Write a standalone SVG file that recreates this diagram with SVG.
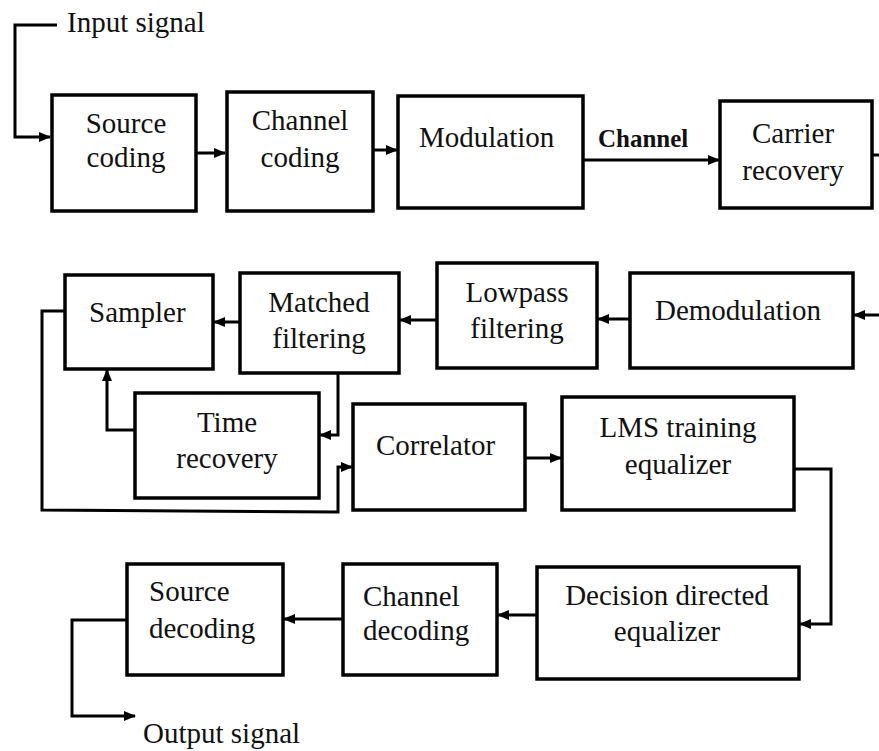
<svg xmlns="http://www.w3.org/2000/svg" width="879" height="751" viewBox="0 0 879 751">
<defs>
<marker id="ah" markerWidth="12" markerHeight="10" refX="11" refY="5" orient="auto" markerUnits="userSpaceOnUse">
<path d="M0,0 L12,5 L0,10 z" fill="#000"/>
</marker>
<style>
.box{fill:#fff;stroke:#000;stroke-width:3.5}
.t{font-family:"Liberation Serif","Times New Roman",serif;font-size:29px;fill:#111}
.m{text-anchor:middle}
.b{font-weight:bold;font-size:25px}
.c{fill:none;stroke:#000;stroke-width:3}
.a{marker-end:url(#ah)}
</style>
</defs>
<rect width="879" height="751" fill="#fff"/>
<g id="connectors">
<path class="c a" d="M57,25 H15 V137 H50"/>
<path class="c a" d="M196,153 H225"/>
<path class="c a" d="M373,150 H397"/>
<path class="c a" d="M583,160 H719"/>
<path class="c" d="M872,155 H879"/>
<path class="c a" d="M879,315 H854"/>
<path class="c a" d="M630,319 H598"/>
<path class="c a" d="M437,320 H400"/>
<path class="c a" d="M240,322 H214"/>
<path class="c a" d="M338,373 V435 H320"/>
<path class="c a" d="M135,430 H107 V370"/>
<path class="c a" d="M65,311 H42 V510 L338,512 V467 H352"/>
<path class="c a" d="M525,458 H561"/>
<path class="c a" d="M794,469 H831 V624 H800"/>
<path class="c a" d="M537,615 H498"/>
<path class="c a" d="M342,619 H284"/>
<path class="c a" d="M127,620 H72 V716 H135"/>
</g>
<text class="t" x="67" y="32">Input signal</text>
<text class="t b" x="598" y="147">Channel</text>
<text class="t" x="143" y="743">Output signal</text>
<g id="source-coding"><rect class="box" x="52" y="95" width="144" height="116"/><text class="t m" x="126" y="133">Source</text><text class="t m" x="126" y="167">coding</text></g>
<g id="channel-coding"><rect class="box" x="227" y="92" width="146" height="119"/><text class="t m" x="300" y="130">Channel</text><text class="t m" x="300" y="167">coding</text></g>
<g id="modulation"><rect class="box" x="398" y="96" width="185" height="112"/><text class="t" x="419" y="147">Modulation</text></g>
<g id="carrier-recovery"><rect class="box" x="720" y="101" width="152" height="107"/><text class="t m" x="793" y="143">Carrier</text><text class="t m" x="793" y="180">recovery</text></g>
<g id="demodulation"><rect class="box" x="630" y="273" width="223" height="95"/><text class="t" x="655" y="320">Demodulation</text></g>
<g id="lowpass-filtering"><rect class="box" x="437" y="263" width="160" height="105"/><text class="t m" x="517" y="302">Lowpass</text><text class="t m" x="517" y="338">filtering</text></g>
<g id="matched-filtering"><rect class="box" x="240" y="273" width="159" height="100"/><text class="t m" x="319" y="312">Matched</text><text class="t m" x="319" y="348">filtering</text></g>
<g id="sampler"><rect class="box" x="65" y="275" width="148" height="94"/><text class="t" x="89" y="322">Sampler</text></g>
<g id="time-recovery"><rect class="box" x="135" y="393" width="184" height="105"/><text class="t m" x="227" y="432">Time</text><text class="t m" x="227" y="468">recovery</text></g>
<g id="correlator"><rect class="box" x="353" y="404" width="172" height="106"/><text class="t" x="376" y="455">Correlator</text></g>
<g id="lms-training-equalizer"><rect class="box" x="562" y="397" width="232" height="113"/><text class="t m" x="678" y="437">LMS training</text><text class="t m" x="678" y="474">equalizer</text></g>
<g id="decision-directed-equalizer"><rect class="box" x="537" y="567" width="262" height="112"/><text class="t m" x="667" y="605">Decision directed</text><text class="t m" x="667" y="641">equalizer</text></g>
<g id="channel-decoding"><rect class="box" x="343" y="564" width="154" height="111"/><text class="t" x="363" y="606">Channel</text><text class="t" x="363" y="640">decoding</text></g>
<g id="source-decoding"><rect class="box" x="127" y="564" width="156" height="111"/><text class="t" x="149" y="601">Source</text><text class="t" x="149" y="638">decoding</text></g>
</svg>
